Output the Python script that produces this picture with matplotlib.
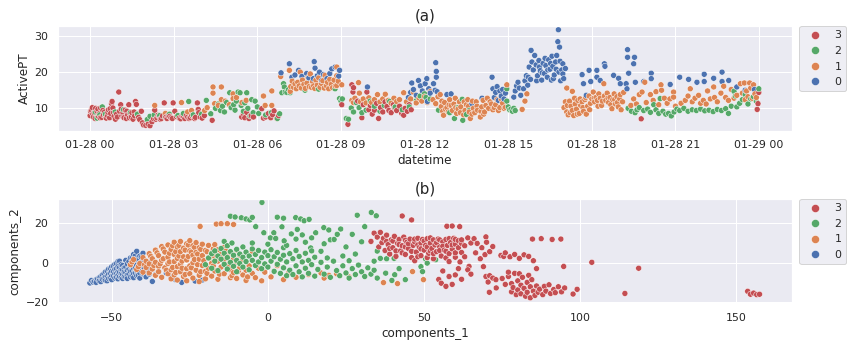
import matplotlib
matplotlib.use("Agg")
import matplotlib.pyplot as plt
import matplotlib.dates as mdates
import numpy as np
import pandas as pd
import seaborn as sns

# (hour of 2021-01-28, ActivePT) per cluster
active_c3 = [
    (0.00, 8.0), (0.02, 9.2), (0.05, 9.5), (0.08, 10.2), (0.10, 8.4), (0.12, 7.6), (0.15, 8.8),
    (0.18, 7.2), (0.20, 10.0), (0.25, 9.2), (0.28, 9.8), (0.30, 7.8), (0.33, 8.5), (0.36, 7.4),
    (0.38, 10.1), (0.42, 7.5), (0.46, 9.4), (0.48, 8.2), (0.52, 9.0), (0.55, 7.8), (0.58, 7.3),
    (0.62, 8.0), (0.64, 8.9), (0.66, 9.6), (0.70, 7.4), (0.72, 9.9), (0.74, 8.6), (0.77, 11.3),
    (0.79, 11.9), (0.82, 10.1), (0.84, 8.8), (0.86, 7.8), (0.91, 7.0), (0.95, 8.4), (0.98, 7.6),
    (1.03, 14.5), (1.06, 9.2), (1.10, 11.0), (1.12, 9.8), (1.14, 7.9), (1.18, 8.8), (1.20, 7.6),
    (1.22, 7.4), (1.26, 9.5), (1.30, 7.2), (1.32, 9.2), (1.35, 8.2), (1.39, 11.0), (1.41, 7.4),
    (1.43, 8.6), (1.48, 7.6), (1.50, 8.8), (1.54, 7.0), (1.58, 9.0), (1.60, 7.9), (1.63, 11.9),
    (1.66, 11.1), (1.70, 8.3), (1.74, 7.5), (1.78, 6.9), (1.84, 9.2), (1.88, 6.0), (1.92, 5.4),
    (2.00, 5.3), (2.08, 5.6), (2.15, 5.2), (2.22, 6.3), (2.28, 7.1), (2.32, 9.5), (2.36, 7.0),
    (2.40, 7.4), (2.44, 8.1), (2.48, 7.8), (2.52, 7.0), (2.56, 7.2), (2.60, 7.9), (2.66, 11.5),
    (2.72, 7.6), (2.76, 7.2), (2.80, 8.0), (2.86, 7.8), (2.90, 7.4), (2.95, 7.2), (2.98, 11.5),
    (3.04, 9.2), (3.10, 7.7), (3.15, 8.0), (3.20, 7.3), (3.25, 7.1), (3.30, 7.9), (3.35, 7.8),
    (3.40, 7.2), (3.45, 8.0), (3.50, 7.6), (3.55, 7.2), (3.60, 7.4), (3.65, 8.0), (3.70, 8.1),
    (3.75, 7.2), (3.78, 7.5), (3.85, 11.5), (3.88, 9.7), (3.90, 8.8), (3.95, 7.6), (4.02, 7.3),
    (4.10, 8.0), (4.38, 6.7), (5.44, 7.6), (5.50, 8.5), (5.55, 7.4), (5.62, 8.9), (5.70, 7.2),
    (5.78, 8.0), (5.86, 7.6), (6.16, 9.9), (6.22, 7.3), (6.30, 7.6), (6.40, 8.6), (6.48, 7.4),
    (6.55, 8.2), (6.60, 9.3), (6.70, 7.2), (6.76, 8.0), (9.03, 11.0), (9.25, 5.6), (9.39, 16.5),
    (9.43, 14.5), (9.45, 15.7), (9.60, 12.0), (9.75, 7.4), (9.80, 11.0), (9.93, 14.5), (10.00, 9.6),
    (10.05, 10.8), (10.12, 8.4), (10.20, 9.5), (10.28, 11.4), (10.35, 7.2), (10.42, 10.2),
    (10.50, 9.0), (10.58, 11.8), (10.65, 10.5), (10.72, 9.4), (10.80, 8.8), (10.88, 11.0),
    (10.92, 10.2), (11.00, 9.4), (11.10, 10.6), (11.18, 8.6), (11.25, 8.1), (11.30, 10.0),
    (11.38, 9.2), (11.45, 11.0), (11.52, 9.6), (19.77, 7.1), (23.93, 9.7), (23.96, 11.3),
    (23.99, 14.4),
]
active_c2 = [
    (0.19, 9.0), (0.25, 7.3), (0.35, 8.2), (0.44, 10.4), (0.55, 8.4), (0.90, 9.0), (1.20, 9.6),
    (1.45, 8.9), (1.70, 8.4), (2.05, 6.9), (2.15, 7.8), (2.30, 8.2), (2.50, 8.0), (2.70, 7.6),
    (2.85, 8.4), (3.15, 8.0), (3.35, 8.6), (3.54, 11.9), (3.70, 8.2), (4.00, 8.4), (4.17, 12.2),
    (4.33, 8.5), (4.50, 10.0), (4.60, 11.2), (4.68, 9.4), (4.75, 10.6), (4.82, 9.0), (4.90, 11.6),
    (5.01, 14.3), (5.06, 10.2), (5.15, 11.0), (5.20, 9.5), (5.25, 12.0), (5.31, 14.5), (5.38, 14.3),
    (5.42, 10.8), (5.50, 9.2), (5.55, 11.5), (5.62, 14.3), (5.66, 10.0), (5.74, 7.9), (5.80, 12.4),
    (5.85, 8.8), (5.92, 12.0), (6.00, 10.4), (6.05, 8.6), (6.30, 8.2), (6.50, 8.8), (6.72, 7.2),
    (6.80, 8.5), (6.88, 14.3), (6.94, 16.8), (6.97, 15.9), (7.00, 14.5), (7.06, 14.4), (7.12, 15.2),
    (7.18, 14.3), (7.71, 15.0), (8.20, 15.3), (8.79, 15.4), (8.95, 12.7), (9.00, 12.0), (9.05, 12.6),
    (9.19, 7.2), (9.27, 7.0), (9.37, 10.1), (9.45, 9.0), (9.55, 11.6), (9.65, 10.2), (9.75, 8.8),
    (9.90, 9.5), (10.05, 12.0), (10.20, 10.6), (10.40, 9.2), (10.55, 10.8), (10.75, 11.9),
    (10.95, 10.4), (11.20, 9.6), (11.45, 10.4), (11.70, 12.1), (11.84, 13.4), (12.00, 14.0),
    (12.05, 13.0), (12.20, 12.6), (12.50, 9.5), (12.90, 8.8), (13.07, 7.2), (13.20, 10.2),
    (13.35, 12.5), (13.37, 6.7), (13.50, 8.3), (13.60, 9.4), (14.95, 15.4), (14.95, 12.0),
    (15.00, 10.4), (15.05, 9.6), (15.10, 9.8), (15.15, 9.2), (15.20, 10.0), (15.25, 9.4),
    (19.30, 10.0), (19.42, 9.2), (19.55, 8.8), (19.62, 9.6), (19.70, 10.2), (19.86, 9.4),
    (20.00, 9.8), (20.10, 8.9), (20.22, 11.0), (20.30, 9.6), (20.40, 8.6), (20.45, 12.7),
    (20.55, 9.2), (20.65, 8.4), (20.75, 8.6), (20.85, 7.9), (20.95, 9.0), (21.05, 9.8),
    (21.15, 9.4), (21.30, 10.0), (21.45, 9.2), (21.60, 9.6), (21.75, 9.4), (21.90, 9.8),
    (22.05, 9.3), (22.20, 9.5), (22.35, 9.1), (22.50, 9.7), (22.65, 9.4), (22.80, 9.9),
    (22.90, 8.6), (23.00, 10.6), (23.10, 14.7), (23.15, 13.4), (23.20, 10.4), (23.30, 11.4),
    (23.40, 12.4), (23.50, 13.8), (23.60, 11.2), (23.70, 12.6), (23.80, 13.2), (23.90, 12.0),
    (23.99, 15.4),
]
active_c1 = [
    (2.32, 10.8), (2.70, 8.6), (3.28, 11.6), (3.50, 9.0), (3.64, 9.4), (4.11, 9.4), (4.20, 10.2),
    (4.41, 15.9), (4.41, 14.2), (4.47, 11.3), (4.60, 10.8), (4.71, 15.9), (4.71, 12.4), (4.85, 12.0),
    (5.00, 11.0), (5.13, 14.0), (5.13, 12.7), (5.25, 13.0), (5.45, 11.6), (5.60, 12.2), (6.22, 13.4),
    (6.28, 10.8), (6.52, 14.8), (6.52, 10.8), (6.84, 19.5), (6.84, 18.8), (7.15, 20.5), (7.18, 14.7),
    (7.20, 16.0), (7.25, 17.5), (7.30, 15.8), (7.35, 16.8), (7.40, 15.4), (7.45, 17.2), (7.50, 16.2),
    (7.54, 20.0), (7.58, 15.6), (7.62, 17.8), (7.67, 16.6), (7.72, 15.5), (7.78, 17.0), (7.82, 18.5),
    (7.86, 16.0), (7.90, 19.5), (7.94, 15.8), (7.98, 17.4), (8.02, 16.2), (8.06, 15.5), (8.10, 17.8),
    (8.15, 16.4), (8.20, 18.4), (8.25, 15.8), (8.30, 16.9), (8.35, 17.6), (8.40, 15.6), (8.43, 19.1),
    (8.48, 16.2), (8.52, 17.2), (8.56, 15.4), (8.60, 18.0), (8.65, 16.6), (8.70, 15.7), (8.75, 17.8),
    (8.80, 16.2), (8.85, 21.4), (8.85, 19.0), (8.85, 16.3), (8.90, 17.5), (9.03, 16.5), (9.39, 12.2),
    (9.45, 11.6), (9.50, 12.8), (9.63, 17.1), (9.66, 14.2), (9.70, 11.8), (9.80, 12.6), (9.90, 11.5),
    (10.00, 12.9), (10.10, 11.6), (10.20, 12.4), (10.31, 13.8), (10.40, 11.8), (10.50, 12.6),
    (10.59, 13.9), (10.70, 12.2), (10.80, 11.4), (10.90, 12.8), (11.00, 11.9), (11.10, 12.4),
    (11.25, 14.3), (11.35, 11.8), (11.50, 12.6), (11.60, 14.5), (11.70, 11.5), (11.80, 12.8),
    (11.90, 12.0), (12.00, 13.2), (12.10, 11.6), (12.20, 14.6), (12.30, 12.4), (12.40, 11.3),
    (12.48, 13.2), (12.56, 13.8), (12.60, 10.5), (12.62, 12.0), (12.65, 9.2), (12.68, 8.1),
    (12.72, 11.6), (12.75, 9.8), (12.80, 10.2), (12.85, 9.0), (12.88, 11.0), (12.90, 12.4),
    (12.95, 10.8), (13.00, 9.4), (13.05, 11.2), (13.10, 12.8), (13.12, 10.2), (13.15, 8.6),
    (13.20, 9.8), (13.25, 11.8), (13.28, 8.8), (13.30, 10.4), (13.40, 8.2), (13.42, 11.8),
    (13.45, 9.4), (13.50, 11.0), (13.55, 12.4), (13.58, 10.6), (13.60, 9.0), (13.64, 7.2),
    (13.70, 8.4), (13.72, 12.0), (13.75, 10.0), (13.80, 8.8), (13.85, 11.8), (13.88, 10.6),
    (13.90, 9.5), (14.00, 7.6), (14.02, 9.2), (14.05, 10.4), (14.10, 12.2), (14.12, 8.4),
    (14.15, 9.0), (14.20, 10.8), (14.25, 12.8), (14.30, 10.0), (14.35, 11.8), (14.40, 11.2),
    (14.45, 9.6), (14.50, 10.2), (14.55, 11.0), (14.60, 12.4), (14.65, 9.4), (14.70, 10.2),
    (14.75, 12.6), (14.80, 11.4), (14.85, 10.0), (14.90, 10.3), (14.95, 16.5), (15.50, 9.7),
    (15.60, 12.0), (15.67, 14.0), (17.00, 10.2), (17.05, 11.8), (17.10, 15.6), (17.10, 9.0),
    (17.12, 10.8), (17.15, 8.2), (17.20, 12.0), (17.22, 8.8), (17.25, 10.6), (17.30, 14.7),
    (17.30, 9.4), (17.35, 8.0), (17.38, 12.8), (17.40, 11.2), (17.45, 9.8), (17.48, 8.4),
    (17.50, 12.2), (17.55, 8.6), (17.58, 12.6), (17.60, 10.8), (17.65, 11.8), (17.68, 10.2),
    (17.70, 9.2), (17.75, 12.4), (17.78, 13.0), (17.80, 8.4), (17.85, 10.6), (17.90, 13.4),
    (17.92, 9.6), (17.95, 11.4), (18.00, 12.6), (18.05, 14.5), (18.08, 12.8), (18.10, 11.8),
    (18.15, 13.0), (18.20, 12.2), (18.22, 10.6), (18.25, 14.0), (18.30, 12.8), (18.35, 10.8),
    (18.38, 12.0), (18.43, 16.8), (18.45, 13.4), (18.50, 12.2), (18.55, 14.2), (18.58, 12.8),
    (18.60, 11.6), (18.65, 13.0), (18.68, 11.0), (18.72, 9.9), (18.75, 12.4), (18.80, 14.0),
    (18.82, 12.4), (18.85, 11.2), (18.90, 13.2), (18.92, 11.6), (18.95, 10.4), (19.00, 12.6),
    (19.02, 13.8), (19.05, 9.6), (19.10, 11.8), (19.14, 14.4), (19.40, 10.8), (19.50, 12.6),
    (19.60, 11.2), (19.70, 13.8), (19.80, 14.5), (19.90, 17.2), (19.95, 11.6), (20.10, 13.8),
    (20.20, 12.2), (20.30, 14.6), (20.40, 11.0), (20.48, 16.5), (20.50, 15.0), (20.60, 12.8),
    (20.70, 11.4), (20.80, 12.6), (20.93, 14.5), (20.93, 13.1), (21.00, 10.6), (21.20, 11.4),
    (21.35, 12.2), (21.45, 13.4), (21.53, 15.4), (21.60, 11.8), (21.70, 12.8), (21.83, 13.6),
    (21.90, 11.4), (22.00, 12.2), (22.10, 11.2), (22.15, 14.8), (22.25, 12.6), (22.37, 15.9),
    (22.40, 13.0), (22.50, 11.8), (22.63, 14.2), (22.73, 16.1), (22.80, 13.0), (22.90, 12.2),
    (23.00, 15.2), (23.10, 12.8), (23.20, 13.6), (23.33, 16.8), (23.40, 14.2), (23.47, 17.0),
    (23.50, 12.4), (23.55, 14.8), (23.60, 13.2), (23.66, 17.0), (23.70, 15.6), (23.75, 12.8),
    (23.80, 16.5), (23.85, 14.0), (23.90, 13.0),
]
active_c0 = [
    (6.85, 19.8), (7.15, 22.3), (7.24, 18.6), (7.35, 19.2), (7.48, 20.5), (7.60, 18.8), (7.77, 19.6),
    (7.85, 18.4), (8.01, 18.2), (8.04, 22.9), (8.07, 21.1), (8.15, 19.0), (8.23, 20.0), (8.31, 17.7),
    (8.37, 19.3), (8.50, 18.2), (8.60, 19.6), (8.67, 20.9), (8.79, 21.4), (8.92, 18.9), (8.95, 20.5),
    (9.95, 15.9), (11.42, 13.0), (11.50, 14.4), (11.54, 17.0), (11.60, 15.2), (11.70, 13.6),
    (11.78, 17.7), (11.85, 16.2), (11.92, 14.8), (12.02, 16.8), (12.08, 18.2), (12.10, 11.9),
    (12.15, 15.4), (12.20, 14.2), (12.32, 16.8), (12.38, 15.0), (12.40, 22.6), (12.42, 20.2),
    (12.42, 18.6), (12.45, 14.6), (12.80, 13.8), (12.95, 14.0), (13.70, 11.3), (14.06, 12.8),
    (14.42, 18.6), (14.45, 15.4), (14.50, 13.0), (14.55, 14.4), (14.60, 16.0), (14.65, 12.2),
    (14.70, 14.8), (14.75, 13.4), (14.80, 15.2), (14.85, 12.6), (14.90, 14.2), (15.20, 13.1),
    (15.25, 14.8), (15.30, 16.2), (15.35, 17.2), (15.40, 15.6), (15.45, 13.6), (15.55, 15.4),
    (15.60, 17.6), (15.65, 19.0), (15.70, 16.4), (15.72, 18.6), (15.75, 21.4), (15.80, 18.0),
    (15.82, 26.0), (15.85, 22.8), (15.90, 20.6), (15.95, 24.6), (16.00, 22.0), (16.02, 17.6),
    (16.05, 19.0), (16.10, 23.2), (16.12, 21.4), (16.15, 20.4), (16.20, 17.8), (16.22, 19.8),
    (16.25, 22.4), (16.30, 19.6), (16.32, 23.8), (16.35, 21.8), (16.40, 18.6), (16.42, 20.6),
    (16.45, 23.4), (16.50, 20.8), (16.52, 22.4), (16.55, 17.8), (16.57, 24.4), (16.60, 21.6),
    (16.62, 18.2), (16.65, 19.2), (16.70, 22.8), (16.72, 20.8), (16.74, 24.6), (16.78, 28.4),
    (16.80, 31.7), (16.82, 20.0), (16.84, 26.9), (16.86, 23.0), (16.88, 17.6), (16.92, 20.6),
    (16.96, 22.3), (16.96, 19.5), (16.99, 18.2), (17.05, 21.0), (17.65, 19.3), (17.70, 16.8),
    (17.80, 13.6), (17.90, 20.5), (17.96, 17.4), (18.18, 20.5), (18.18, 18.6), (18.30, 17.7),
    (18.45, 22.3), (18.47, 21.6), (18.78, 19.1), (18.96, 18.3), (19.02, 16.8), (19.23, 16.8),
    (19.26, 15.4), (19.28, 26.2), (19.28, 24.1), (19.32, 19.7), (19.50, 22.3), (19.53, 24.1),
    (19.56, 17.2), (19.86, 17.4), (20.13, 19.7), (20.13, 18.2), (20.81, 16.6), (21.15, 18.6),
    (21.47, 18.0), (21.77, 17.2), (22.03, 19.4), (22.03, 17.4), (22.37, 18.3), (22.67, 20.0),
    (22.67, 17.4), (22.91, 17.7), (23.20, 15.9), (23.50, 15.0), (23.83, 15.2),
]

# (components_1, components_2) per cluster
pca_c0 = [
    (-57, -10.3), (-56.5, -9.0), (-56, -9.8), (-55.5, -9.4), (-55, -8.6), (-55, -10.0),
    (-54.5, -8.2), (-54, -7.6), (-54, -9.2), (-53.5, -7.0), (-53.5, -9.6), (-53, -6.2), (-53, -8.4),
    (-52.5, -5.6), (-52.5, -8.0), (-52, -4.6), (-52, -7.2), (-52, -9.0), (-51.5, -4.2), (-51.5, -6.8),
    (-51.5, -9.2), (-51, -3.2), (-51, -5.8), (-51, -8.0), (-50.5, -3.0), (-50.5, -5.4), (-50.5, -7.6),
    (-50, -2.0), (-50, -4.4), (-50, -6.8), (-50, -8.6), (-49.5, -1.6), (-49.5, -4.6), (-49.5, -6.8),
    (-49, -0.8), (-49, -3.4), (-49, -5.6), (-49, -7.8), (-48.5, -0.4), (-48.5, -3.0), (-48.5, -5.6),
    (-48.5, -7.4), (-48, 0.6), (-48, -2.0), (-48, -4.6), (-48, -6.4), (-48, -8.2), (-47.5, 0.8),
    (-47.5, -2.4), (-47.5, -4.8), (-47.5, -7.0), (-47, -1.0), (-47, -3.6), (-47, -5.8), (-47, -7.6),
    (-46.5, -1.4), (-46.5, -3.6), (-46.5, -6.0), (-46.5, -8.0), (-46, -2.6), (-46, -4.8), (-46, -7.0),
    (-45.5, 1.2), (-45.5, -2.2), (-45.5, -5.0), (-45.5, -7.2), (-45, -0.6), (-45, -3.8), (-45, -6.2),
    (-45, -8.0), (-44.5, 0.6), (-44.5, -3.2), (-44.5, -5.8), (-44, 2.4), (-44, -1.8), (-44, -4.4),
    (-44, -7.2), (-43.5, 2.2), (-43.5, -1.4), (-43.5, -4.2), (-43.5, -6.6), (-43, 4.2), (-43, 0.4),
    (-43, -2.8), (-43, -5.6), (-43, -7.6), (-42.5, 3.4), (-42.5, -0.2), (-42.5, -2.8), (-42.5, -5.2),
    (-42, 5.8), (-42, 2.0), (-42, -1.2), (-42, -4.0), (-42, -6.6), (-41.5, 1.6), (-41.5, -2.0),
    (-41.5, -6.4), (-41, 3.4), (-41, -0.2), (-41, -3.0), (-41, -5.2), (-41, -7.8), (-40.5, 2.8),
    (-40.5, -0.8), (-40.5, -4.0), (-40, 4.8), (-40, 1.0), (-40, -2.2), (-40, -5.8), (-39.5, 0.4),
    (-39.5, -3.0), (-39.5, -6.0), (-39, -1.6), (-39, -4.2), (-39, -7.2), (-38, 0.0), (-38, -3.2),
    (-38, -5.8), (-37, -9.5), (-36, -6.0), (-35, -4.4), (-32.5, -5.3), (-31, -7.4), (-29.6, -8.6),
    (-27.6, -10.0), (-23.3, -9.3), (-21, -8.8),
]
pca_c1 = [
    (-44, -1.0), (-43.5, 0.4), (-43, 1.6), (-42, -3.4), (-41.5, -2.0), (-41, -0.4), (-40, 2.6),
    (-40, -4.8), (-39.5, -1.0), (-39, 0.8), (-39, -2.4), (-38, 4.6), (-38, -0.6), (-38, -5.2),
    (-37.5, 3.2), (-37, 2.0), (-37, -3.2), (-36.5, -1.4), (-36, 6.4), (-36, 0.2), (-36, -6.4),
    (-35.5, 5.0), (-35, 3.6), (-35, -1.8), (-35, -4.6), (-34.5, -0.6), (-34, 8.2), (-34, 1.2),
    (-34, -7.4), (-33.5, 2.0), (-33.5, 7.0), (-33, 5.4), (-33, -2.6), (-32.5, -3.8), (-32, 9.0),
    (-32, 2.8), (-32, -0.4), (-32, -5.6), (-31.5, 4.8), (-31.5, 0.4), (-31, 6.8), (-31, -3.6),
    (-31, -8.2), (-30.5, 8.6), (-30.5, -2.4), (-30, 10.4), (-30, 4.2), (-30, 0.6), (-30, -6.2),
    (-29.5, 5.6), (-29.5, -5.0), (-29, 8.0), (-29, 2.2), (-29, -2.0), (-29, -8.8), (-28.5, 3.4),
    (-28.5, 8.8), (-28, 10.8), (-28, 5.6), (-28, -0.8), (-28, -4.6), (-27.5, 0.8), (-27.5, -2.8),
    (-27, 7.4), (-27, 3.0), (-27, -7.0), (-26.5, 6.4), (-26.5, -6.0), (-26, 9.6), (-26, 1.4),
    (-26, -3.0), (-26, -9.2), (-25.5, 3.2), (-25.5, 9.0), (-25, 11.2), (-25, 6.0), (-25, -1.6),
    (-25, -5.6), (-24.5, -2.6), (-24.5, 5.4), (-24, 8.6), (-24, 3.8), (-24, 0.0), (-24, -7.8),
    (-23.5, 1.6), (-23.5, 7.8), (-23, 10.2), (-23, 5.2), (-23, -3.8), (-22.5, -1.0), (-22.5, 4.4),
    (-22, 7.6), (-22, 1.8), (-22, -6.4), (-22, -9.6), (-21.7, 18.4), (-21.5, 6.8), (-21.5, -4.6),
    (-21, 9.4), (-21, 3.6), (-21, -1.4), (-20.5, 1.0), (-20, 6.2), (-20, -4.4), (-20, -8.2),
    (-19.5, 5.6), (-19.5, -5.4), (-19, 8.8), (-19, 2.4), (-19, -2.8), (-18.5, 2.8), (-18, 5.0),
    (-18, -0.2), (-18, -6.8), (-17.5, 7.0), (-17.5, -1.6), (-17, 9.2), (-17, 3.0), (-17, -4.2),
    (-16.5, 19.6), (-16.5, 4.0), (-16, 6.6), (-16, 0.8), (-16, -8.4), (-15.5, -5.8), (-15, 19.8),
    (-15, 4.2), (-15, -2.2), (-14.5, 2.6), (-14, 7.8), (-14, 1.6), (-14, -5.6), (-13.5, 5.8),
    (-13, 19.8), (-13, 3.4), (-13, -1.0), (-12.5, -2.0), (-12, 5.4), (-12, -3.6), (-12, -7.6),
    (-11.5, -6.6), (-11, 19.4), (-11, 2.2), (-11, -5.0), (-10, 6.4), (-10, 0.4), (-10, -8.0),
    (-9.5, -4.4), (-9, 3.8), (-9, -2.6), (-8, -6.2), (-8, 1.6), (-7, -3.8), (-7, -9.0),
    (-6.5, -7.2), (-6, -1.6), (-5, 5.8), (-5, -5.4), (-4, -7.6), (-3, -2.8), (-2, -9.2),
    (-1, -4.8), (1, -7.2), (3, -1.5), (5, -8.6), (6.7, -5.0), (9, -7.4), (13, -6.0), (17, -5.2),
    (18, -7.8), (19.5, -6.4), (22, -5.6), (26, -7.2), (37, -10.1), (41.5, -10.6), (46.3, -4.5),
    (49.8, -8.6),
]
pca_c2 = [
    (-20, -1.0), (-19, 2.4), (-18, 4.6), (-18, -2.8), (-17, 6.0), (-17, 0.8), (-16, 3.4),
    (-16, -4.0), (-15, 7.2), (-15, 1.8), (-14, 4.8), (-14, -0.8), (-14, 10.8), (-13, 8.6),
    (-13, 2.6), (-13, -3.2), (-12, 5.6), (-12, 0.2), (-11.5, 10.0), (-11, 3.8), (-11, -1.8),
    (-10, 6.8), (-10, 1.2), (-10, -4.6), (-9, 4.4), (-9, -0.4), (-8, 8.0), (-8, 2.8), (-8, -2.2),
    (-7, 5.4), (-7, 0.6), (-6, 3.4), (-6, -3.6), (-5, 7.0), (-5, 1.2), (-5, 10.0), (-4, 4.2),
    (-4, -1.4), (-3, 6.2), (-3, 0.4), (-2, 2.6), (-2, -3.0), (-1, 5.4), (-1, -0.6), (0, 3.6),
    (0, -2.2), (0, 9.4), (1, 6.6), (1, 0.8), (2, -4.4), (2, 3.0), (3, 5.2), (3, -0.8), (4, 1.8),
    (4, -5.4), (5, 7.6), (5, 3.8), (5, -2.6), (6, 0.4), (6, -6.6), (6, 8.8), (7, 4.6), (7, -3.8),
    (8, 2.0), (8, -6.0), (9, -1.6), (9, 6.2), (9, 12.0), (10, 3.2), (10, -4.6), (11, 0.4),
    (11, -7.2), (12, 4.8), (12, -2.8), (12, 10.4), (13, 1.2), (13, -5.4), (13.7, 7.5), (14, 6.0),
    (14, -1.0), (14, 12.6), (15, 2.8), (15, -6.8), (16, -3.4), (17, 5.8), (17, 0.2), (18, -5.8),
    (18, 9.6), (19, 2.4), (19, -2.2), (20, -7.4), (20, 11.6), (21, 0.8), (22, -4.0), (23, -6.6),
    (24, 3.4), (24, -1.6), (25, -5.2), (25, 8.0), (26, 1.0), (26, -7.8), (27, -3.0), (28, 4.4),
    (28, -6.0), (29, -1.2), (30, -4.6), (30, 10.6), (31, -7.0), (32, -2.6), (33, -5.8), (34, 0.8),
    (34, -3.8), (35, -7.8), (35, 5.9), (36, 2.2), (37.7, -5.3), (38, 2.0), (39.7, -9.0),
    (40.4, 2.2), (40.6, -6.1), (42, -3.0), (44, -8.6), (49, -2.0), (49.5, -4.5), (50.5, 1.9),
    (51, 2.4), (51, -0.2), (53.7, 1.5),
    (-12, 23.6), (-10.5, 23.2), (-8.5, 22.8), (-7, 22.2), (-5.8, 21.7), (-5, 23.0), (-3.9, 18.3),
    (-1.9, 30.6), (-1.3, 15.2), (1.9, 15.2), (0.8, 12.6), (3, 23.1), (5, 22.6), (4.5, 18.2),
    (2.5, 12.3), (5.2, 11.1), (8.9, 22.9), (10.5, 22.2), (11.6, 21.3), (13.2, 22.0), (7.5, 14.6),
    (11, 14.1), (9.4, 16.9), (15.3, 15.2), (17.9, 17.8), (19.5, 16.6), (21.2, 11.8), (22.2, 14.4),
    (23.3, 17.1), (27, 14.4), (31, 18.3), (28.6, 24.1), (33.1, 25.5), (34.7, 23.8),
]
pca_c3 = [
    (33, 10.8), (34, 15.0), (35, 13.0), (35.5, 8.0), (36, 15.4), (36.5, 10.2), (37, 12.4),
    (37.5, 6.2), (38, 14.0), (38, 10.8), (38.5, 9.2), (39, 4.4), (39, 7.2), (39.5, 11.6),
    (40, 7.6), (40, 11.0), (40.5, 13.4), (41, 3.2), (41, 6.0), (41.5, 9.8), (42, 11.8), (42, 9.2),
    (42.5, 6.0), (43, 23.7), (43, 8.6), (43, 5.0), (43.5, 13.0), (44, 4.2), (44, 11.4), (44, 8.0),
    (44.5, 10.4), (45, 7.2), (45, 9.6), (45.5, 12.0), (46, 21.7), (46, 2.6), (46, 5.8), (46.5, 8.8),
    (47, 10.6), (47, 12.0), (47, 1.0), (47.5, 5.4), (48, 12.4), (48, 9.0), (48, 3.0), (48.5, 7.8),
    (49, 3.6), (49, 10.0), (49, 7.0), (49.5, 11.8), (50, 6.4), (50, 11.0), (50.5, 8.8), (51, 12.2),
    (51, 8.0), (51, 2.6), (51.5, 4.8), (52, 10.0), (52, 6.0), (52, 12.6), (52.5, 7.2), (53, 11.6),
    (53, 2.0), (53, 4.6), (53.5, 9.0), (54, 5.6), (54, 10.2), (54.5, 12.0), (55, 8.0), (55, 6.2),
    (55, 11.6), (55.5, 3.4), (56, 10.6), (56, 8.4), (56.5, 6.4), (57, 11.8), (57, 2.4), (57, 5.8),
    (57.3, 18.5), (57.5, 8.8), (58, 0.6), (58, 4.6), (58, 12.2), (58.5, 10.2), (59, 18.6),
    (59, 7.0), (59, 9.0), (59.5, 12.4), (60, 2.8), (60, 9.4), (60, 11.8), (60, 5.0), (61.4, 18.3),
    (61, 11.2), (61, 7.6), (61.5, 0.4), (62, 5.2), (62, 9.8), (62, 11.6), (63, 8.6), (63, 3.0),
    (54.7, -8.5), (55.5, -10.4), (56, -4.2), (57, -12.0), (58, -7.0), (59, -11.0), (60, -6.2),
    (61, -3.0), (62, -8.4), (64, 12.6), (64.4, -1.9), (64, -3.6), (65, -5.8), (65, 10.0),
    (66, 12.2), (66.5, 5.0), (67, 9.8), (68, 2.0), (68.5, 7.6), (69, -2.0), (69.5, 4.1),
    (69.8, 13.1), (69.8, -7.0), (70, 10.4), (70.5, -9.8), (70.9, -15.0), (71, 5.6), (71, -6.6),
    (72, -7.8), (72, 8.2), (73, -8.6), (73.1, -12.8), (74.6, 3.7), (75, -8.0), (75.5, 3.2),
    (76, -11.0), (76, 5.0), (77, -7.0), (77, -4.8), (77.5, 3.0), (78, -10.6), (78, -14.8),
    (78.5, -12.6), (79, -5.4), (79, 4.2), (79.5, -16.2), (80, -9.2), (80, -13.8), (80.5, 2.2),
    (80.5, -5.6), (81, -15.8), (81, -11.4), (81.5, -7.4), (82, 4.0), (82, -13.0), (82.5, -17.0),
    (83, -10.0), (83, -15.0), (83.5, 3.2), (83.5, -6.4), (84, -12.2), (84, -17.8), (84.5, -8.6),
    (84.7, 12.0), (85, -14.4), (85, 1.0), (85.5, -16.6), (86, -3.0), (86, -11.8), (86.5, -15.0),
    (87, -13.4), (87.5, 12.2), (88, -16.2), (88.5, -12.0), (89, -14.4), (90, -11.2), (90.5, -15.6),
    (91, 11.8), (91.5, -13.6), (92, -15.2), (93, -12.2), (93.8, 12.0), (94, -14.8), (94.7, -1.9),
    (95, -12.8), (97.7, -15.9), (99, -13.5), (103.7, 0.2), (114.3, -15.6), (118.7, -2.8),
    (153.6, -14.5), (154.5, -16.0), (155.5, -15.4), (156.5, -16.2), (157.4, -16.0),
]

cluster_order = [3, 2, 1, 0]
cluster_colors = {0: "#4C72B0", 1: "#DD8452", 2: "#55A868", 3: "#C44E52"}

sns.set_theme()


def to_frame(groups, cols):
    rows = []
    for label, pts in groups.items():
        for a, b in pts:
            rows.append((a, b, label))
    return pd.DataFrame(rows, columns=cols + ["cluster"])


ts = to_frame({3: active_c3, 2: active_c2, 1: active_c1, 0: active_c0}, ["hour", "ActivePT"])
ts = ts.sort_values("hour", kind="stable").reset_index(drop=True)
t0 = pd.Timestamp("2021-01-28")
ts["datetime"] = t0 + pd.to_timedelta(ts["hour"], unit="h")

pca = to_frame({0: pca_c0, 1: pca_c1, 2: pca_c2, 3: pca_c3}, ["components_1", "components_2"])

fig = plt.figure(figsize=(853 / 72, 348 / 72), dpi=72)
ax1 = fig.add_axes([0.068, 0.6236, 0.8605, 0.3014])
ax2 = fig.add_axes([0.068, 0.129, 0.8605, 0.299])

sns.scatterplot(data=ts, x="datetime", y="ActivePT", hue="cluster", hue_order=cluster_order,
                palette=cluster_colors, ax=ax1)
ax1.xaxis.set_major_locator(mdates.HourLocator(byhour=range(0, 24, 3)))
ax1.xaxis.set_major_formatter(mdates.DateFormatter("%m-%d %H"))
ax1.set_xlim(t0 - pd.Timedelta(hours=1.15), t0 + pd.Timedelta(hours=25.18))
ax1.set_ylim(3.75, 32.7)
ax1.set_title("(a)", fontsize=15)
ax1.legend(bbox_to_anchor=(1.01, 1.0), loc="upper left", borderaxespad=0, markerscale=1.35)

sns.scatterplot(data=pca, x="components_1", y="components_2", hue="cluster", hue_order=cluster_order,
                palette=cluster_colors, ax=ax2)
ax2.set_xlim(-67.2, 167.8)
ax2.set_ylim(-20.5, 32.3)
ax2.set_title("(b)", fontsize=15)
ax2.legend(bbox_to_anchor=(1.01, 1.0), loc="upper left", borderaxespad=0, markerscale=1.35)

fig.savefig("out.png", dpi=72)
plt.close(fig)
